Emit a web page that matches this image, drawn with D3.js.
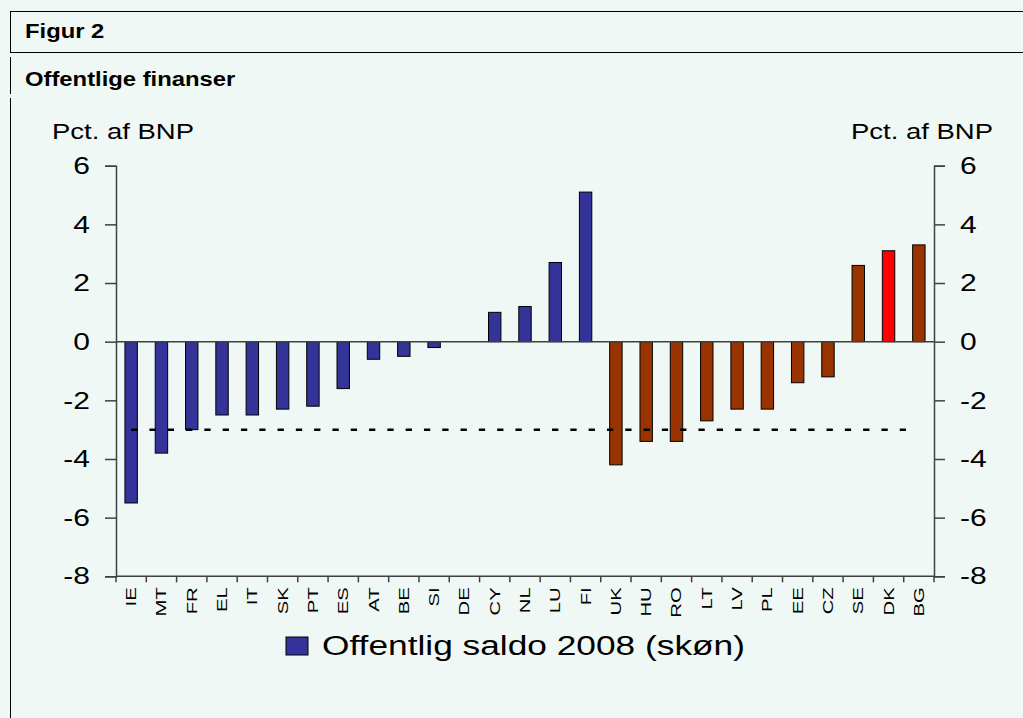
<!DOCTYPE html>
<html>
<head>
<meta charset="utf-8">
<script src="https://cdn.jsdelivr.net/npm/d3@7"></script>
<style>
  body { margin: 0; background: #f0f8f5; }
  svg { display: block; font-family: "Liberation Sans", Arial, sans-serif; }
</style>
</head>
<body>
<svg class="svg"></svg>
<script>
const countries = ["IE","MT","FR","EL","IT","SK","PT","ES","AT","BE","SI","DE","CY","NL","LU","FI",
  "UK","HU","RO","LT","LV","PL","EE","CZ","SE","DK","BG"];
const saldo = [-5.5,-3.8,-3.0,-2.5,-2.5,-2.3,-2.2,-1.6,-0.6,-0.5,-0.2,0,1.0,1.2,2.7,5.1,
  -4.2,-3.4,-3.4,-2.7,-2.3,-2.3,-1.4,-1.2,2.6,3.1,3.3];
const euroMembers = ["IE","MT","FR","EL","IT","SK","PT","ES","AT","BE","SI","DE","CY","NL","LU","FI"];
const yTicks = [-8,-6,-4,-2,0,2,4,6];
const limit = -3;

const width = 1023, height = 718;
const svg = d3.select(".svg").attr("width", width).attr("height", height);

svg.append("rect").attr("width", width).attr("height", height).attr("fill", "#f0f8f5");

// frame lines
const frame = svg.append("g").attr("stroke", "#000").attr("stroke-width", 1);
frame.append("line").attr("x1", 10).attr("x2", width).attr("y1", 11.5).attr("y2", 11.5);
frame.append("line").attr("x1", 10).attr("x2", width).attr("y1", 52.5).attr("y2", 52.5);
[[12, 52], [57, 94], [98, height]].forEach(([a, b]) =>
  frame.append("line").attr("x1", 10.5).attr("x2", 10.5).attr("y1", a).attr("y2", b));

function stretch(sel, f) {
  sel.each(function () {
    const w = this.getComputedTextLength();
    this.setAttribute("textLength", w * f);
    this.setAttribute("lengthAdjust", "spacingAndGlyphs");
  });
}

svg.append("text").attr("x", 25).attr("y", 38).attr("font-size", 20).attr("font-weight", "bold")
  .text("Figur 2").call(stretch, 1.19);
svg.append("text").attr("x", 25).attr("y", 86).attr("font-size", 20).attr("font-weight", "bold")
  .text("Offentlige finanser").call(stretch, 1.19);

svg.append("text").attr("x", 52).attr("y", 139).attr("font-size", 22).text("Pct. af BNP")
  .attr("textLength", 142).attr("lengthAdjust", "spacingAndGlyphs");
svg.append("text").attr("x", 851).attr("y", 139).attr("font-size", 22).text("Pct. af BNP")
  .attr("textLength", 142).attr("lengthAdjust", "spacingAndGlyphs");

const m = { left: 116, right: 934, top: 165.7, bottom: 576.3 };

const x = d3.scaleBand().domain(countries).range([m.left, m.right]).paddingInner(0.59).paddingOuter(0.295);
const xb = d3.scaleBand().domain(countries).range([m.left, m.right]);
const y = d3.scaleLinear().domain([-8, 6]).range([m.bottom, m.top]);

// bars
svg.append("g").selectAll("rect").data(countries).join("rect")
  .attr("x", d => x(d))
  .attr("width", x.bandwidth())
  .attr("y", (d, i) => y(Math.max(0, saldo[i])))
  .attr("height", (d, i) => Math.abs(y(saldo[i]) - y(0)))
  .attr("fill", d => d === "DK" ? "#ff0000" : euroMembers.includes(d) ? "#333399" : "#993300")
  .attr("stroke", "#000").attr("stroke-width", 1);

// zero line
svg.append("line").attr("x1", m.left).attr("x2", m.right).attr("y1", y(0)).attr("y2", y(0))
  .attr("stroke", "#404040").attr("stroke-width", 1.5);

// -3 pct limit
svg.append("line")
  .attr("x1", xb(countries[0]) + xb.bandwidth() / 2)
  .attr("x2", xb(countries[countries.length - 1]) + xb.bandwidth() / 2 - 4)
  .attr("y1", y(limit)).attr("y2", y(limit))
  .attr("stroke", "#000").attr("stroke-width", 2.5).attr("stroke-dasharray", "6.3,12");

// y axes
function styleAxis(g) {
  g.select(".domain").attr("stroke", "#404040").attr("stroke-width", 1.5);
  g.selectAll(".tick line").attr("stroke", "#404040").attr("stroke-width", 1.5);
  g.selectAll(".tick text").attr("font-size", 24).attr("fill", "#000").attr("font-family", "Liberation Sans, Arial, sans-serif");
}
const fmt = d => String(d);
const left = svg.append("g").attr("transform", `translate(${m.left},0)`)
  .call(d3.axisLeft(y).tickValues(yTicks).tickSize(11).tickSizeOuter(11).tickPadding(15).tickFormat(fmt))
  .call(styleAxis);
left.selectAll(".tick text").call(stretch, 1.25);
const right = svg.append("g").attr("transform", `translate(${m.right},0)`)
  .call(d3.axisRight(y).tickValues(yTicks).tickSize(11).tickSizeOuter(11).tickPadding(15).tickFormat(fmt))
  .call(styleAxis);
right.selectAll(".tick text").call(stretch, 1.25);

// x axis
const bottom = svg.append("g").attr("transform", `translate(0,${m.bottom})`);
bottom.append("line").attr("x1", m.left).attr("x2", m.right).attr("stroke", "#404040").attr("stroke-width", 1.5);
bottom.selectAll("line.tk").data(countries.concat(["end"])).join("line").attr("class", "tk")
  .attr("x1", (d, i) => m.left + i * xb.step()).attr("x2", (d, i) => m.left + i * xb.step())
  .attr("y1", 0).attr("y2", 6).attr("stroke", "#404040").attr("stroke-width", 1.5);
bottom.selectAll("text").data(countries).join("text")
  .attr("transform", d => `translate(${xb(d) + xb.bandwidth() / 2 + 5},11) rotate(-90) scale(1.45,1)`)
  .attr("text-anchor", "end").attr("font-size", 14).text(d => d);

// legend
const lg = svg.append("g");
lg.append("rect").attr("x", 286).attr("y", 637).attr("width", 22).attr("height", 18)
  .attr("fill", "#333399").attr("stroke", "#000");
lg.append("text").attr("x", 322).attr("y", 655).attr("font-size", 27)
  .text("Offentlig saldo 2008 (skøn)")
  .attr("textLength", 423).attr("lengthAdjust", "spacingAndGlyphs");
</script>
</body>
</html>
